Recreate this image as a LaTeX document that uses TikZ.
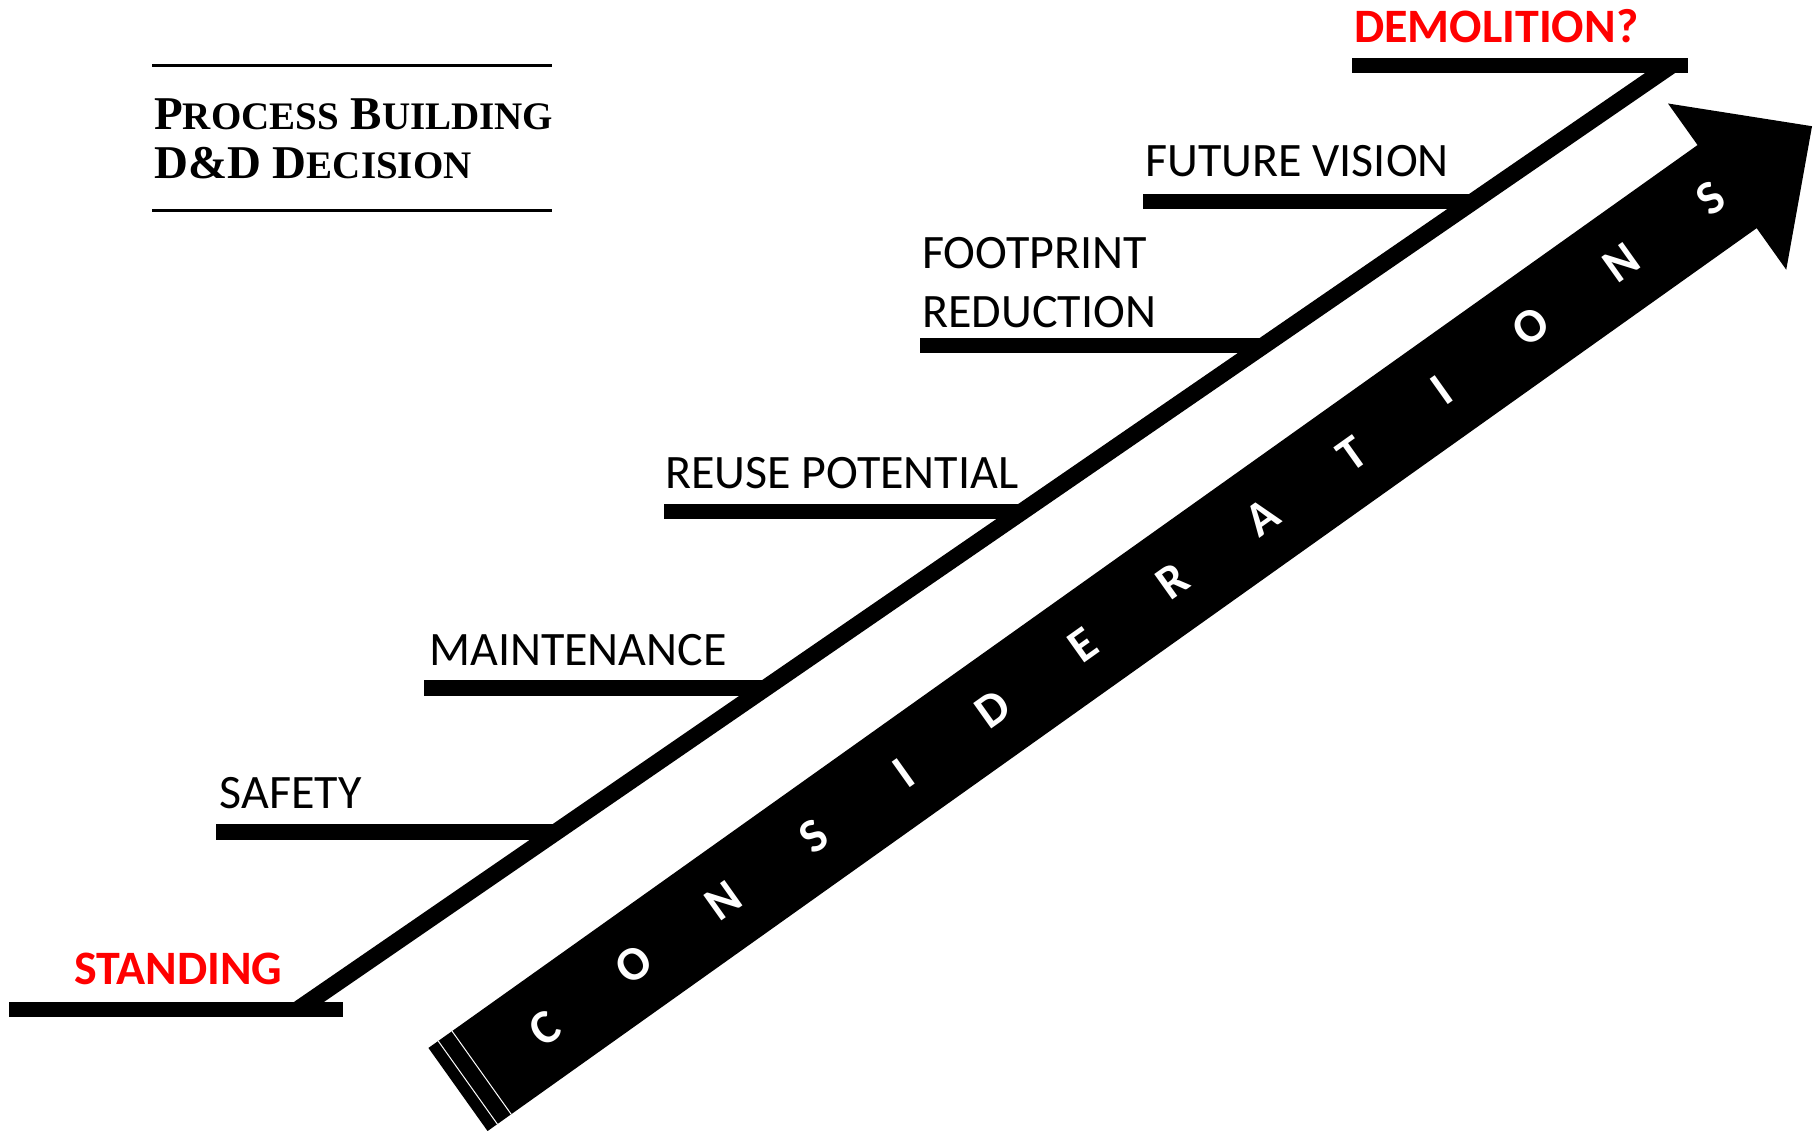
\documentclass[tikz,border=0pt]{standalone}
\usepackage{fontspec}
\setmainfont{Carlito}
\newfontfamily\headfont{Liberation Serif}
\usetikzlibrary{positioning}
\tikzset{
    bar/.style={
           line width=15.5pt,
           },
}
\tikzset{
    rail/.style={
           line width=17pt,
           },
}
\tikzset{
    lbl/.style={
           anchor=base west,
           inner sep=0pt,
           font=\fontsize{48}{59}\selectfont,
           },
}
\tikzset{
    endlbl/.style={
           lbl,
           text=red,
           font=\fontsize{48}{59}\selectfont\bfseries,
           },
}
\tikzset{
    letter/.style={
           text=white,
           inner sep=0pt,
           rotate=35.43,
           font=\fontsize{48}{60}\selectfont\bfseries,
           },
}
\tikzset{
    head/.style={
           anchor=base west,
           inner sep=0pt,
           font=\headfont\bfseries\fontsize{47}{54}\selectfont,
           },
}
\newcommand{\fakesc}[2]{{\fontsize{47}{54}\selectfont #1}{\fontsize{39}{54}\selectfont #2}}

\begin{document}
\begin{tikzpicture}[x=1pt,y=-1pt]
\useasboundingbox (0,0) rectangle (1813,1131);
% title
\draw[line width=2.7pt] (152,65.7) -- (552,65.7);
\draw[line width=2.7pt] (152,210.7) -- (552,210.7);
\node[head](title1) at (154,130){\fakesc{P}{ROCESS} \fakesc{B}{UILDING}};
\node[head](title2) at (154,179){\fakesc{D\&D}{} \fakesc{D}{ECISION}};
% steps
\coordinate (railbot) at (298,1009.5);
\coordinate (railtop) at (1671,65.5);
\draw[rail] (railbot) -- (railtop);
\draw[bar] (9,1009.5) -- (343,1009.5);
\draw[bar] (216,832) -- (558,832);
\draw[bar] (424,688) -- (766,688);
\draw[bar] (664,511.5) -- (1022,511.5);
\draw[bar] (920,345.7) -- (1263,345.7);
\draw[bar] (1143,201.5) -- (1474,201.5);
\draw[bar] (1352,65.5) -- (1688,65.5);
\node[endlbl](standing) at (74,984){STANDING};
\node[lbl](safety) at (219.5,808){SAFETY};
\node[lbl](maint) at (429,665){MAINTENANCE};
\node[lbl](reuse) at (665,488){REUSE POTENTIAL};
\node[lbl,anchor=south west,align=left](footprint) at (922,328){FOOTPRINT\\REDUCTION};
\node[lbl](future) at (1145,177){FUTURE VISION};
\node[endlbl](demolition) at (1354,43){DEMOLITION?};
% big arrow
\begin{scope}[shift={(458,1089.5)},rotate=35.43]
\fill (0,-51) -- (1557.6,-51) -- (1557.6,-102) -- (1661.8,0) -- (1557.6,102) -- (1557.6,51) -- (0,51) -- cycle;
\draw[white,line width=1pt] (12,-51) -- (12,51);
\draw[white,line width=1pt] (29,-51) -- (29,51);
\foreach \chr [count=\i from 0] in {C,O,N,S,I,D,E,R,A,T,I,O,N,S}
  \node[letter](ltr\i) at (106+110.1*\i,0){\chr};
\end{scope}
\end{tikzpicture}
\end{document}
